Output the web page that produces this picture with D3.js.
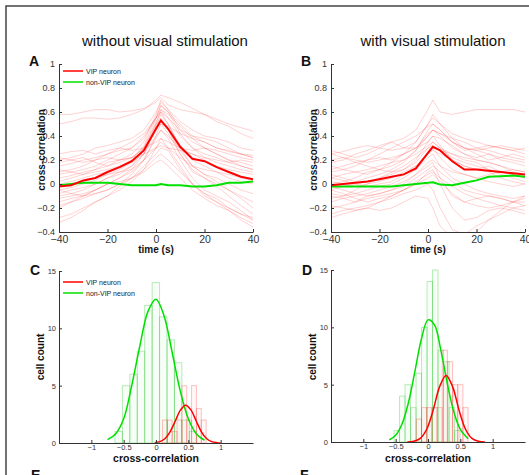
<!DOCTYPE html>
<html><head><meta charset="utf-8">
<script src="https://cdn.jsdelivr.net/npm/d3@7"></script>
<style>body{margin:0;background:#fff}svg{display:block}</style>
</head><body><svg id="c" width="529" height="475"></svg>
<script>
// ---------- DATA ----------
const titles = ["without visual stimulation", "with visual stimulation"];
const letters = ["A", "B", "C", "D", "E", "F"];
const legendLabels = ["VIP neuron", "non-VIP neuron"];
const timeTicks = [-40, -20, 0, 20, 40];
const corrTicks = [-0.4, -0.2, 0, 0.2, 0.4, 0.6, 0.8, 1];
const ccTicks = [-1, -0.5, 0, 0.5, 1];
const countTicks = [0, 5, 10, 15];

const times = [-40,-35,-30,-25,-20,-15,-10,-5,0,2,5,10,15,20,25,30,35,40];

const meanVipA = [-0.02,-0.01,0.03,0.05,0.10,0.14,0.19,0.28,0.46,0.53,0.46,0.31,0.21,0.19,0.14,0.10,0.06,0.04];
const meanNonA = [-0.01,0.0,0.01,0.01,0.01,0.0,-0.01,-0.01,-0.01,0.0,-0.01,-0.01,-0.02,-0.02,-0.01,0.01,0.01,0.02];
const meanVipB = [-0.01,0.0,0.01,0.02,0.04,0.06,0.08,0.13,0.26,0.31,0.28,0.19,0.12,0.12,0.11,0.10,0.09,0.08];
const meanNonB = [-0.02,-0.02,-0.02,-0.02,-0.02,-0.02,-0.01,0.0,0.01,0.015,-0.005,-0.01,0.01,0.03,0.06,0.065,0.07,0.06];

const tracesA = [
 [0.58,0.58,0.60,0.62,0.62,0.60,0.61,0.63,0.68,0.72,0.66,0.62,0.60,0.58,0.54,0.50,0.47,0.44],
 [0.50,0.52,0.55,0.55,0.54,0.55,0.58,0.62,0.70,0.74,0.72,0.68,0.63,0.58,0.52,0.48,0.42,0.38],
 [0.20,0.22,0.25,0.30,0.32,0.35,0.38,0.45,0.60,0.68,0.62,0.52,0.45,0.40,0.38,0.35,0.30,0.28],
 [0.15,0.17,0.20,0.22,0.25,0.28,0.30,0.38,0.55,0.65,0.60,0.50,0.40,0.35,0.30,0.27,0.25,0.22],
 [0.10,0.12,0.15,0.20,0.22,0.20,0.25,0.35,0.58,0.70,0.62,0.45,0.35,0.30,0.25,0.20,0.18,0.15],
 [0.05,0.07,0.10,0.12,0.18,0.20,0.22,0.30,0.50,0.62,0.55,0.40,0.30,0.25,0.22,0.18,0.15,0.12],
 [0.00,0.02,0.05,0.08,0.10,0.15,0.20,0.32,0.55,0.66,0.60,0.42,0.30,0.22,0.18,0.15,0.12,0.10],
 [-0.05,-0.03,0.00,0.03,0.08,0.12,0.18,0.30,0.52,0.60,0.50,0.32,0.20,0.15,0.10,0.05,0.02,0.00],
 [-0.08,-0.05,-0.03,0.00,0.05,0.10,0.15,0.25,0.48,0.58,0.50,0.30,0.15,0.08,0.05,0.00,-0.05,-0.08],
 [-0.10,-0.08,-0.05,0.00,0.05,0.08,0.15,0.28,0.50,0.55,0.45,0.25,0.10,0.05,0.00,-0.05,-0.10,-0.15],
 [-0.12,-0.10,-0.08,-0.05,0.00,0.05,0.12,0.25,0.45,0.52,0.45,0.28,0.15,0.08,0.02,-0.05,-0.12,-0.20],
 [-0.15,-0.12,-0.10,-0.05,0.00,0.05,0.10,0.20,0.40,0.50,0.42,0.25,0.12,0.05,-0.02,-0.10,-0.18,-0.25],
 [-0.20,-0.15,-0.12,-0.08,-0.05,0.00,0.08,0.20,0.38,0.45,0.38,0.20,0.05,-0.05,-0.10,-0.15,-0.22,-0.30],
 [-0.28,-0.25,-0.20,-0.15,-0.10,-0.05,0.02,0.12,0.30,0.38,0.30,0.15,0.00,-0.10,-0.15,-0.22,-0.30,-0.36],
 [-0.32,-0.28,-0.22,-0.15,-0.10,-0.02,0.05,0.15,0.25,0.30,0.28,0.12,0.00,-0.08,-0.12,-0.20,-0.25,-0.30],
 [0.25,0.27,0.28,0.25,0.28,0.30,0.28,0.30,0.35,0.38,0.35,0.30,0.28,0.30,0.28,0.25,0.22,0.20],
 [0.18,0.20,0.22,0.18,0.15,0.20,0.22,0.25,0.30,0.32,0.30,0.28,0.25,0.22,0.20,0.18,0.20,0.18],
 [0.12,0.10,0.08,0.10,0.12,0.15,0.18,0.25,0.40,0.45,0.40,0.30,0.25,0.20,0.15,0.12,0.10,0.08],
 [-0.02,0.00,0.02,0.05,0.08,0.10,0.12,0.20,0.30,0.35,0.30,0.22,0.15,0.12,0.10,0.08,0.05,0.03],
 [0.08,0.10,0.12,0.15,0.20,0.25,0.30,0.40,0.55,0.62,0.58,0.48,0.38,0.30,0.25,0.20,0.15,0.12],
 [-0.05,-0.08,-0.10,-0.08,-0.05,0.00,0.05,0.12,0.22,0.25,0.20,0.10,0.00,-0.08,-0.15,-0.20,-0.25,-0.28],
 [0.02,0.05,0.08,0.12,0.15,0.18,0.22,0.30,0.45,0.50,0.48,0.42,0.38,0.35,0.30,0.28,0.25,0.24],
 [0.22,0.20,0.18,0.20,0.25,0.30,0.35,0.42,0.55,0.60,0.55,0.45,0.40,0.38,0.35,0.30,0.25,0.22],
 [-0.18,-0.15,-0.10,-0.05,0.00,0.02,0.05,0.10,0.18,0.20,0.15,0.05,-0.05,-0.12,-0.18,-0.22,-0.28,-0.33]
];

const tracesB = [
 [0.25,0.27,0.30,0.32,0.30,0.35,0.38,0.45,0.62,0.70,0.60,0.58,0.60,0.62,0.62,0.62,0.62,0.60],
 [0.28,0.25,0.22,0.25,0.30,0.28,0.30,0.35,0.50,0.55,0.50,0.42,0.38,0.35,0.32,0.30,0.28,0.30],
 [0.20,0.22,0.18,0.20,0.25,0.30,0.35,0.40,0.48,0.50,0.45,0.35,0.30,0.28,0.30,0.32,0.30,0.28],
 [0.15,0.12,0.15,0.20,0.22,0.20,0.25,0.30,0.42,0.45,0.40,0.30,0.25,0.22,0.25,0.22,0.20,0.18],
 [0.10,0.12,0.10,0.08,0.12,0.18,0.25,0.35,0.50,0.58,0.50,0.38,0.30,0.25,0.20,0.22,0.25,0.22],
 [0.05,0.08,0.10,0.12,0.15,0.18,0.20,0.28,0.40,0.45,0.42,0.35,0.30,0.28,0.25,0.20,0.18,0.15],
 [0.00,0.02,0.05,0.10,0.12,0.10,0.12,0.20,0.35,0.40,0.32,0.20,0.15,0.12,0.15,0.10,0.08,0.05],
 [-0.05,-0.02,0.00,0.02,0.05,0.08,0.12,0.18,0.30,0.35,0.30,0.22,0.18,0.15,0.12,0.10,0.12,0.10],
 [-0.08,-0.10,-0.05,0.00,0.02,0.05,0.10,0.15,0.25,0.30,0.22,0.12,0.08,0.05,0.02,0.00,-0.02,0.00],
 [-0.12,-0.10,-0.08,-0.05,-0.02,0.00,0.05,0.12,0.22,0.25,0.15,0.05,0.00,-0.05,-0.08,-0.10,-0.12,-0.10],
 [-0.15,-0.12,-0.15,-0.10,-0.08,-0.05,0.00,0.08,0.15,0.18,0.05,-0.10,-0.15,-0.12,-0.10,-0.12,-0.15,-0.18],
 [-0.20,-0.18,-0.15,-0.12,-0.10,-0.08,-0.05,0.00,0.10,0.12,0.00,-0.20,-0.30,-0.28,-0.22,-0.20,-0.22,-0.25],
 [-0.25,-0.22,-0.20,-0.18,-0.15,-0.12,-0.08,-0.05,0.00,-0.05,-0.20,-0.38,-0.42,-0.35,-0.30,-0.25,-0.20,-0.18],
 [-0.28,-0.25,-0.22,-0.20,-0.22,-0.20,-0.15,-0.10,-0.12,-0.20,-0.35,-0.45,-0.45,-0.40,-0.30,-0.22,-0.15,-0.10],
 [0.18,0.20,0.25,0.28,0.32,0.35,0.30,0.30,0.35,0.40,0.38,0.32,0.25,0.20,0.18,0.15,0.12,0.10],
 [0.02,0.00,-0.02,0.00,0.05,0.10,0.15,0.22,0.30,0.32,0.28,0.25,0.22,0.20,0.18,0.15,0.10,0.08],
 [-0.10,-0.12,-0.10,-0.08,-0.05,-0.02,0.02,0.08,0.18,0.20,0.15,0.10,0.08,0.05,0.08,0.10,0.08,0.05],
 [0.12,0.15,0.18,0.15,0.12,0.15,0.20,0.25,0.32,0.35,0.30,0.25,0.20,0.18,0.12,0.08,0.05,0.02],
 [-0.02,-0.05,-0.08,-0.10,-0.08,-0.05,-0.02,0.05,0.12,0.15,0.10,0.02,-0.05,-0.08,-0.10,-0.12,-0.15,-0.15],
 [0.08,0.05,0.02,0.05,0.08,0.12,0.18,0.28,0.45,0.50,0.45,0.35,0.28,0.30,0.32,0.30,0.28,0.25],
 [-0.18,-0.20,-0.22,-0.20,-0.15,-0.10,-0.05,0.02,0.08,0.10,0.05,-0.02,-0.08,-0.12,-0.15,-0.18,-0.20,-0.22],
 [0.05,0.03,0.00,-0.02,0.00,0.02,0.08,0.15,0.25,0.28,0.25,0.20,0.15,0.12,0.10,0.05,0.02,0.00],
 [-0.05,-0.08,-0.12,-0.15,-0.12,-0.10,-0.05,0.00,0.05,0.08,0.02,-0.08,-0.15,-0.18,-0.20,-0.18,-0.15,-0.12],
 [0.25,0.22,0.20,0.18,0.20,0.22,0.25,0.30,0.40,0.45,0.42,0.38,0.35,0.30,0.28,0.25,0.22,0.20]
];

// histograms: bin edges and counts
const greenEdgesC = [-0.635,-0.52,-0.405,-0.29,-0.175,-0.06,0.055,0.17,0.285,0.40,0.515,0.63];
const greenCountsC = [1,5,6,8,12,14,11,9,7,2,1];
const redEdgesC = [0.10,0.175,0.25,0.325,0.40,0.475,0.55,0.625,0.70,0.775];
const redCountsC = [2,2,1,2,5,2,5,3,2];
const greenEdgesD = [-0.525,-0.44,-0.355,-0.27,-0.185,-0.10,-0.015,0.07,0.155,0.24,0.325,0.41,0.495];
const greenCountsD = [1,4,5,3,6,10,14,15,8,7,3,1];
const redEdgesD = [-0.18,-0.10,-0.02,0.06,0.14,0.22,0.30,0.38,0.46,0.54,0.62];
const redCountsD = [2,3,3,3,3,8,7,5,5,3];

// fitted curves
const greenFitXC = [-0.75,-0.625,-0.5,-0.375,-0.25,-0.125,0,0.125,0.25,0.375,0.5,0.625,0.75];
const greenFitYC = [0.29,0.79,2.11,5.03,8.46,11.46,12.54,11.08,7.89,4.54,2.11,0.79,0.24];
const redFitXC = [-0.02,0.06,0.14,0.22,0.30,0.38,0.46,0.54,0.62,0.70,0.78,0.86,0.94,1.0];
const redFitYC = [0.03,0.12,0.39,1.0,1.94,2.89,3.3,2.89,1.94,1.0,0.39,0.12,0.03,0.01];
const greenFitXD = [-0.6,-0.5,-0.4,-0.3,-0.2,-0.1,0,0.1,0.2,0.3,0.4,0.5,0.62];
const greenFitYD = [0.18,0.59,1.59,3.49,6.23,9.03,10.65,10.22,7.97,5.06,2.61,1.10,0.29];
const redFitXD = [-0.32,-0.22,-0.12,-0.02,0.08,0.18,0.28,0.38,0.48,0.58,0.68,0.78,0.88];
const redFitYD = [0.01,0.06,0.31,1.11,2.78,4.83,5.8,4.83,2.78,1.11,0.31,0.06,0.01];

// ---------- DRAW ----------
const FONT = '"Liberation Sans", Arial, Helvetica, sans-serif';
const RED = "#ff0000", GREEN = "#00e000", AX = "#333";
const svg = d3.select("#c");

// figure frame
svg.append("path").attr("d","M6,475V6H529").attr("fill","none").attr("stroke","#444").attr("stroke-width",1.5);

function styleAxis(g, fs){
  g.attr("font-family", FONT).attr("font-size", fs);
  g.select(".domain").attr("stroke", AX);
  g.selectAll(".tick line").attr("stroke", AX);
  g.selectAll(".tick text").attr("fill", AX);
}
function txt(x, y, s, size, opts={}){
  const t = svg.append("text").attr("x", x).attr("y", y).text(s)
    .attr("font-family", FONT).attr("font-size", size).attr("fill", opts.fill||"#111");
  if (opts.bold) t.attr("font-weight","bold");
  if (opts.anchor) t.attr("text-anchor", opts.anchor);
  if (opts.rotate) t.attr("transform", `rotate(-90,${x},${y})`);
  return t;
}
function legend(x, y1, y2){
  svg.append("line").attr("x1",x).attr("x2",x+20).attr("y1",y1).attr("y2",y1).attr("stroke",RED).attr("stroke-width",1.5);
  svg.append("line").attr("x1",x).attr("x2",x+20).attr("y1",y2).attr("y2",y2).attr("stroke",GREEN).attr("stroke-width",1.5);
  txt(x+23, y1+2.5, legendLabels[0], 7, {fill:"#222"});
  txt(x+23, y2+2.5, legendLabels[1], 7, {fill:"#222"});
}

function tracePanel(i, x0, titleX, traces, meanVip, meanNon, withLegend){
  const x = d3.scaleLinear().domain([-40,40]).range([x0, x0+194]);
  const y = d3.scaleLinear().domain([-0.4,1]).range([232,64]);
  const id = "clip"+i;
  svg.append("clipPath").attr("id",id).append("rect").attr("x",x0).attr("y",64).attr("width",194).attr("height",168);
  const g = svg.append("g").attr("clip-path",`url(#${id})`);
  const line = d3.line().x((d,k)=>x(times[k])).y(d=>y(d));
  g.selectAll("path.tr").data(traces).join("path").attr("class","tr")
    .attr("d", line).attr("fill","none").attr("stroke","#ff3030").attr("stroke-opacity",0.22).attr("stroke-width",1);
  g.append("path").attr("d", line(meanNon)).attr("fill","none").attr("stroke",GREEN).attr("stroke-width",2);
  g.append("path").attr("d", line(meanVip)).attr("fill","none").attr("stroke",RED).attr("stroke-width",2);

  const xa = svg.append("g").attr("transform","translate(0,232)")
    .call(d3.axisBottom(x).tickValues(timeTicks).tickSizeInner(-3).tickSizeOuter(0).tickPadding(4));
  styleAxis(xa, 10.5);
  const ya = svg.append("g").attr("transform",`translate(${x0},0)`)
    .call(d3.axisLeft(y).tickValues(corrTicks).tickFormat(d3.format("~g")).tickSizeInner(-3).tickSizeOuter(0).tickPadding(4));
  styleAxis(ya, 9);

  txt(titleX, 46, titles[i], 15, {anchor:"middle"});
  txt(x0-30, 66, letters[i], 14, {bold:true});
  txt(x0+97, 253, "time (s)", 10, {bold:true, anchor:"middle"});
  txt(x0-14, 150, "cross-correlation", 10, {bold:true, anchor:"middle", rotate:true});
  if (withLegend) legend(x0+4, 71, 82);
}

function histPanel(i, x0, y0, gE, gC, rE, rC, gfx, gfy, rfx, rfy, withLegend){
  const x = d3.scaleLinear().domain([-1.5,1.5]).range([x0, x0+194]);
  const y = d3.scaleLinear().domain([0,15]).range([y0, y0-172]).clamp(true);
  const bars = (edges, counts, col) => {
    svg.append("g").selectAll("rect").data(counts).join("rect")
      .attr("x",(d,k)=>x(edges[k])).attr("width",(d,k)=>x(edges[k+1])-x(edges[k]))
      .attr("y",d=>y(d)).attr("height",d=>y(0)-y(d))
      .attr("fill",col).attr("fill-opacity",0.03)
      .attr("stroke",col).attr("stroke-opacity",0.28).attr("stroke-width",1);
  };
  bars(gE, gC, "#00c000");
  bars(rE, rC, "#ff2020");
  const line = (xs) => d3.line().x((d,k)=>x(xs[k])).y(d=>y(d)).curve(d3.curveCatmullRom);
  svg.append("path").attr("d", line(gfx)(gfy)).attr("fill","none").attr("stroke",GREEN).attr("stroke-width",1.5);
  svg.append("path").attr("d", line(rfx)(rfy)).attr("fill","none").attr("stroke",RED).attr("stroke-width",1.5);

  const xa = svg.append("g").attr("transform",`translate(0,${y0})`)
    .call(d3.axisBottom(x).tickValues(ccTicks).tickFormat(d3.format("~g")).tickSizeInner(-3).tickSizeOuter(0).tickPadding(2));
  styleAxis(xa, 7.5);
  const ya = svg.append("g").attr("transform",`translate(${x0},0)`)
    .call(d3.axisLeft(y).tickValues(countTicks).tickSizeInner(-3).tickSizeOuter(0).tickPadding(3));
  styleAxis(ya, 7.5);

  txt(x0-29, 275, letters[i], 14, {bold:true});
  txt(x0+97, 462, "cross-correlation", 10.5, {bold:true, anchor:"middle"});
  txt(x0-15, 357, "cell count", 10, {bold:true, anchor:"middle", rotate:true});
  if (withLegend) legend(x0+4, 282, 293);
}

tracePanel(0, 59, 165, tracesA, meanVipA, meanNonA, true);
tracePanel(1, 331, 433, tracesB, meanVipB, meanNonB, false);
histPanel(2, 59, 443, greenEdgesC, greenCountsC, redEdgesC, redCountsC, greenFitXC, greenFitYC, redFitXC, redFitYC, true);
histPanel(3, 331, 442, greenEdgesD, greenCountsD, redEdgesD, redCountsD, greenFitXD, greenFitYD, redFitXD, redFitYD, false);
txt(31, 480, letters[4], 14, {bold:true});
txt(300, 480, letters[5], 14, {bold:true});
</script></body></html>
